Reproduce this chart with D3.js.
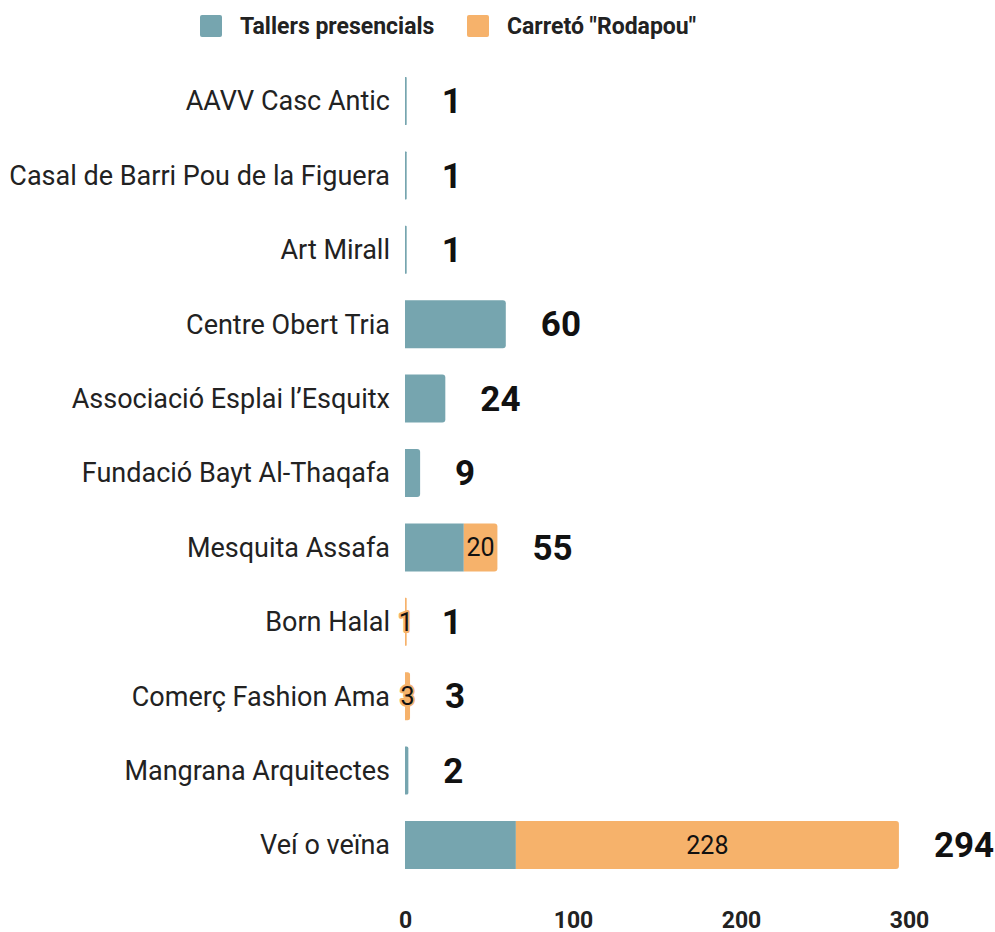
<!DOCTYPE html>
<html>
<head>
<meta charset="utf-8">
<script src="https://cdn.jsdelivr.net/npm/d3@7"></script>
<style>
  body { margin: 0; background: #fff; font-family: Roboto, "Noto Sans", sans-serif; }
</style>
</head>
<body>
<div id="container"></div>
<script>
const width = 995, height = 932;

// --- Data ---
const categories = [
  "AAVV Casc Antic",
  "Casal de Barri Pou de la Figuera",
  "Art Mirall",
  "Centre Obert Tria",
  "Associació Esplai l’Esquitx",
  "Fundació Bayt Al-Thaqafa",
  "Mesquita Assafa",
  "Born Halal",
  "Comerç Fashion Ama",
  "Mangrana Arquitectes",
  "Veí o veïna"
];
const tallers = [1, 1, 1, 60, 24, 9, 35, 0, 0, 2, 66];
const carreto = [0, 0, 0, 0, 0, 0, 20, 1, 3, 0, 228];
const seriesNames = ["Tallers presencials", "Carretó \"Rodapou\""];
const colors = ["#76a5af", "#f6b26b"];
const xTicks = [0, 100, 200, 300];

const rows = categories.map((c, i) => ({ cat: c, tallers: tallers[i], carreto: carreto[i] }));
const stack = d3.stack().keys(["tallers", "carreto"])(rows);

const svg = d3.select("#container").append("svg")
  .attr("width", width).attr("height", height);

const x = d3.scaleLinear().domain([0, 300]).range([405, 909]);
const y = d3.scaleBand().domain(categories).range([63.8, 882.2])
  .paddingInner(0.355).paddingOuter(0.1775);

// rounded right end for the last visible segment
function barPath(x0, x1, y0, h, r) {
  const w = x1 - x0;
  r = Math.min(r, w / 2);
  return `M${x0},${y0}H${x1 - r}Q${x1},${y0} ${x1},${y0 + r}V${y0 + h - r}Q${x1},${y0 + h} ${x1 - r},${y0 + h}H${x0}Z`;
}

stack.forEach((layer, li) => {
  const g = svg.append("g");
  layer.forEach((d, i) => {
    const v = d[1] - d[0];
    if (v <= 0) return;
    const isLast = li === stack.length - 1 || stack[li + 1][i][1] - stack[li + 1][i][0] <= 0;
    g.append("path")
      .attr("d", barPath(x(d[0]), x(d[1]), y(categories[i]), y.bandwidth(), isLast ? 3 : 0))
      .attr("fill", colors[li]);
  });
});

// value labels inside orange segments
stack[1].forEach((d, i) => {
  const v = d[1] - d[0];
  if (v <= 0) return;
  svg.append("text")
    .attr("x", (x(d[0]) + x(d[1])) / 2)
    .attr("y", y(categories[i]) + y.bandwidth() / 2)
    .attr("dy", "0.35em")
    .attr("text-anchor", "middle")
    .attr("fill", "#111")
    .attr("stroke", colors[1]).attr("stroke-width", 4)
    .attr("paint-order", "stroke")
    .attr("stroke-linejoin", "round")
    .style("font-size", "25px")
    .text(v);
});

// totals
rows.forEach(r => {
  const total = r.tallers + r.carreto;
  svg.append("text")
    .attr("x", x(total) + 35)
    .attr("y", y(r.cat) + y.bandwidth() / 2)
    .attr("dy", "0.35em")
    .attr("fill", "#111")
    .style("font-size", "35px")
    .style("font-weight", "700")
    .text(total);
});

// category labels
svg.append("g").selectAll("text").data(categories).join("text")
  .attr("x", 390)
  .attr("y", d => y(d) + y.bandwidth() / 2)
  .attr("dy", "0.35em")
  .attr("text-anchor", "end")
  .attr("fill", "#222")
  .style("font-size", "27px")
  .text(d => d);

// x axis
const xAxis = svg.append("g")
  .attr("transform", "translate(0,920)")
  .call(d3.axisBottom(x).tickValues(xTicks).tickSize(0).tickPadding(0));
xAxis.select(".domain").remove();
xAxis.selectAll("text")
  .attr("dy", "0.35em")
  .attr("fill", "#222")
  .style("font-family", "Roboto, sans-serif")
  .style("font-size", "23px")
  .style("font-weight", "700");

// legend
const leg = svg.append("g");
const legX = [200, 467];
seriesNames.forEach((n, i) => {
  leg.append("rect")
    .attr("x", legX[i]).attr("y", 15)
    .attr("width", 22).attr("height", 22).attr("rx", 2)
    .attr("fill", colors[i]);
  leg.append("text")
    .attr("x", legX[i] + 40).attr("y", 26)
    .attr("dy", "0.35em")
    .attr("fill", "#222")
    .style("font-size", "23px")
    .style("font-weight", "700")
    .text(n);
});
</script>
</body>
</html>
